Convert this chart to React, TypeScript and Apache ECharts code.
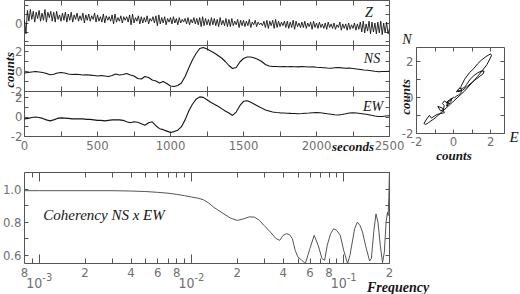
import React, { useEffect, useRef } from "react";
import * as echarts from "echarts";

// ---------- DATA ----------
const zStepSeconds = 10;
const zCounts = [
  0.3, -1.2, 1.4, 0.2, 1.5, 0.4, 1.3, 0.1, 1.2, 0.5,
  1.4, 0.2, 1.1, 0.3, 1.5, 0.1, 1.2, 0.6, 1.3, 0.2,
  1.2, 0.1, 1.3, 0.4, 0.9, 0.2, 1.1, 0.3, 1.2, 0.1,
  1.0, 0.3, 1.2, 0.1, 0.9, 0.4, 1.1, 0.2, 0.8, 0.3,
  1.1, 0.0, 0.9, 0.3, 1.0, 0.2, 0.8, 0.4, 1.1, 0.1,
  0.9, 0.2, 0.7, 0.1, 1.0, 0.0, 0.8, 0.3, 0.7, 0.2,
  0.9, -0.1, 1.0, 0.1, 0.6, 0.2, 0.8, 0.0, 0.7, 0.3,
  0.7, 0.1, 0.9, -0.2, 1.0, 0.0, 0.6, 0.2, 0.8, -0.1,
  0.7, 0.0, 0.6, 0.1, 0.8, -0.1, 0.5, 0.2, 0.7, 0.0,
  0.8, -0.3, 0.9, -0.1, 0.6, 0.0, 0.7, -0.2, 0.5, 0.1,
  0.6, -0.1, 0.7, 0.0, 0.5, -0.2, 0.6, 0.0, 0.4, 0.1,
  0.5, -0.1, 0.6, -0.2, 0.4, 0.0, 0.6, -0.1, 0.5, -0.2,
  0.6, -0.4, 0.7, -0.3, 0.5, -0.2, 0.4, -0.3, 0.6, -0.2,
  0.5, -0.3, 0.4, -0.4, 0.6, -0.2, 0.3, -0.3, 0.5, -0.4,
  0.4, -0.4, 0.5, -0.3, 0.2, -0.2, 0.4, -0.5, 0.3, -0.3,
  0.3, -0.4, 0.2, -0.3, 0.4, -0.5, 0.1, -0.2, 0.3, -0.4,
  0.1, -0.2, 0.0, -0.3, 0.2, -0.5, 0.3, -0.6, 0.2, -0.3,
  0.3, -0.6, 0.4, -0.5, 0.2, -0.4, 0.1, -0.3, 0.2, -0.5,
  0.2, -0.6, 0.1, -0.5, 0.3, -0.7, 0.2, -0.4, 0.0, -0.5,
  0.1, -0.5, 0.2, -0.6, 0.0, -0.4, 0.1, -0.7, 0.2, -0.5,
  0.0, -0.6, 0.1, -0.5, -0.1, -0.6, 0.0, -0.7, 0.1, -0.5,
  -0.1, -0.6, 0.0, -0.7, -0.2, -0.5, 0.1, -0.8, -0.1, -0.6,
  -0.1, -0.8, 0.0, -0.7, -0.2, -0.6, 0.0, -0.8, -0.1, -0.7,
  0.1, -1.0, 0.2, -1.1, -0.1, -0.9, 0.2, -1.2, 0.1, -1.0,
  0.0, -1.2, 0.1, -1.1, 0.2, -1.3, 0.0, -1.1, 0.1, -1.2,
  -0.6,
];

const hStepSeconds = 25;
const nsCounts = [
  -0.15, -0.1, -0.05, 0.0, -0.05, -0.1, -0.2, -0.32, -0.28, -0.15,
  -0.1, -0.15, -0.25, -0.3, -0.28, -0.3, -0.35, -0.33, -0.36, -0.4,
  -0.45, -0.4, -0.45, -0.5, -0.4, -0.25, -0.35, -0.3, -0.2, -0.35,
  -0.45, -0.7, -0.75, -0.5, -0.6, -0.85, -0.95, -1.15, -1.0, -1.2,
  -1.45, -1.5, -1.4, -1.15, -0.5, 0.35, 1.15, 1.8, 2.3, 2.4,
  2.25, 2.05, 1.85, 1.6, 1.35, 1.0, 0.6, 0.3, 0.4, 0.95,
  1.3, 1.45, 1.45, 1.35, 1.2, 1.0, 0.7, 0.55, 0.5, 0.5,
  0.48, 0.5, 0.47, 0.5, 0.48, 0.46, 0.5, 0.48, 0.45, 0.47,
  0.42, 0.4, 0.38, 0.35, 0.33, 0.38, 0.4, 0.36, 0.33, 0.35,
  0.3, 0.25, 0.2, 0.15, 0.12, 0.08, 0.02, -0.02, 0.0, 0.0,
  0.02,
];
const ewCounts = [
  -0.2, -0.15, -0.05, 0.0, -0.05, -0.15, -0.3, -0.4, -0.3, -0.15,
  -0.1, -0.12, -0.15, -0.2, -0.2, -0.2, -0.2, -0.25, -0.25, -0.3,
  -0.35, -0.35, -0.4, -0.35, -0.3, -0.3, -0.3, -0.35, -0.5, -0.6,
  -0.5, -0.55, -0.7, -0.85, -0.6, -0.5, -0.9, -1.2, -1.3, -1.45,
  -1.6, -1.5, -1.35, -1.0, -0.3, 0.6, 1.3, 1.8, 2.05, 2.0,
  1.75, 1.5, 1.3, 1.1, 0.85, 0.6, 0.4, 0.15, 0.5, 1.15,
  1.6, 1.65, 1.5, 1.3, 1.1, 0.9, 0.7, 0.6, 0.5, 0.45,
  0.42, 0.4, 0.38, 0.36, 0.35, 0.33, 0.35, 0.38, 0.4, 0.43,
  0.45, 0.42, 0.38, 0.32, 0.28, 0.22, 0.2, 0.25, 0.32, 0.4,
  0.42, 0.4, 0.35, 0.3, 0.25, 0.18, 0.1, 0.05, 0.05, 0.1,
  0.12,
];

const timeTickValues = [0, 250, 500, 750, 1000, 1250, 1500, 1750, 2000, 2250, 2500];
const timeLabelValues = [0, 500, 1000, 1500, 2000, 2500];
const countTickValues = [-2, -1, 0, 1, 2];
const zLabelValues = [0];
const hLabelValues = [-2, 0, 2];
const pmLabelValues = [-2, 0, 2];

const freqHz = [
  0.0008, 0.001, 0.002, 0.003, 0.004, 0.005, 0.006, 0.007, 0.008, 0.009,
  0.010, 0.011, 0.012, 0.013, 0.014, 0.016, 0.018, 0.020, 0.022, 0.024,
  0.026, 0.028, 0.030, 0.033, 0.036, 0.038, 0.040, 0.042, 0.044, 0.046,
  0.048, 0.050, 0.053, 0.056, 0.060, 0.064, 0.068, 0.072, 0.075, 0.078,
  0.082, 0.086, 0.090, 0.095, 0.100, 0.106, 0.110, 0.118, 0.123, 0.128,
  0.133, 0.140, 0.148, 0.152, 0.158, 0.163, 0.168, 0.174, 0.180, 0.185,
  0.190, 0.194, 0.196, 0.198, 0.200,
];
const coherency = [
  0.99, 0.99, 0.99, 0.99, 0.988, 0.985, 0.98, 0.975, 0.968, 0.96,
  0.952, 0.945, 0.935, 0.915, 0.89, 0.855, 0.825, 0.81, 0.82, 0.832,
  0.83, 0.81, 0.78, 0.74, 0.70, 0.69, 0.72, 0.73, 0.725, 0.70,
  0.63, 0.59, 0.57, 0.55, 0.64, 0.72, 0.66, 0.58, 0.57, 0.66,
  0.73, 0.76, 0.75, 0.72, 0.63, 0.55, 0.60, 0.76, 0.80, 0.78,
  0.74, 0.65, 0.565, 0.58, 0.75, 0.85, 0.80, 0.66, 0.555, 0.62,
  0.80, 0.86, 0.84, 0.95, 1.12,
];
const cohTickValues = [0.6, 0.7, 0.8, 0.9, 1.0];
const cohLabelValues = [0.6, 0.8, 1.0];
const freqMinorTicks = [
  0.0009, 0.002, 0.003, 0.004, 0.005, 0.006, 0.007, 0.008, 0.009,
  0.02, 0.03, 0.04, 0.05, 0.06, 0.07, 0.08, 0.09, 0.2,
];
const freqDecades = [0.001, 0.01, 0.1];
const freqDigitLabels = [0.0008, 0.002, 0.004, 0.006, 0.008, 0.02, 0.04, 0.06, 0.08, 0.2];
const freqMin = 0.0008;
const freqMax = 0.2;

// ---------- STYLE ----------
const frameColor = "#555";
const labelColor = "#707070";
const inkColor = "#151515";
const sansFont = "'Liberation Sans Narrow', 'DejaVu Sans Condensed', 'Liberation Sans', sans-serif";
const serifFont = "'Liberation Serif', 'DejaVu Serif', serif";

function makeAxis(
  gridIndex: number,
  position: string,
  min: number,
  max: number,
  tickValues: number[] | null,
  tickLen: number,
  labelValues?: number[],
  formatter?: (v: number) => string,
  margin = 2,
  extraLabel: Record<string, unknown> = {}
) {
  return {
    type: "value",
    gridIndex,
    position,
    min,
    max,
    axisLine: { show: false, onZero: false },
    splitLine: { show: false },
    axisTick:
      tickValues && tickValues.length
        ? { show: true, inside: true, length: tickLen, customValues: tickValues, lineStyle: { color: frameColor, width: 1 } }
        : { show: false },
    axisLabel: labelValues
      ? {
          show: true,
          customValues: labelValues,
          formatter,
          margin,
          color: labelColor,
          fontFamily: sansFont,
          fontSize: 13,
          ...extraLabel,
        }
      : { show: false },
  };
}

const num = (v: number) => String(v);
const lg = (f: number) => Math.log10(f);

export default function App() {
  const ref = useRef<HTMLDivElement>(null);

  useEffect(() => {
    if (!ref.current) return;
    const chart = echarts.init(ref.current, undefined, { renderer: "svg" });

    const xAxes: any[] = [];
    const yAxes: any[] = [];
    const addX = (a: any) => (xAxes.push(a), xAxes.length - 1);
    const addY = (a: any) => (yAxes.push(a), yAxes.length - 1);

    const gridBox = (left: number, top: number, width: number, height: number) => ({
      left, top, width, height,
      show: true,
      borderColor: frameColor,
      borderWidth: 1,
      backgroundColor: "transparent",
      containLabel: false,
      outerBoundsMode: "none",
    });

    const grids = [
      gridBox(24.5, 0.5, 365, 45), // Z
      gridBox(24.5, 45.5, 365, 46), // NS
      gridBox(24.5, 91.5, 365, 45), // EW
      gridBox(416.5, 47.5, 88, 86), // particle motion
      gridBox(24.5, 172.5, 365, 91), // coherency
    ];

    const panelRanges: [number, number, number[]][] = [
      [-2.5, 2.5, zLabelValues],
      [-2, 2.6, hLabelValues],
      [-2, 2.6, hLabelValues],
    ];
    const tx: number[] = [];
    const ty: number[] = [];
    panelRanges.forEach(([mn, mx, labels], gi) => {
      tx.push(addX(makeAxis(gi, "bottom", 0, 2500, timeTickValues, 5, gi === 2 ? timeLabelValues : undefined, num, 2)));
      addX(makeAxis(gi, "top", 0, 2500, timeTickValues, 5));
      ty.push(addY(makeAxis(gi, "left", mn, mx, countTickValues, 4, labels, num, 2)));
      addY(makeAxis(gi, "right", mn, mx, countTickValues, 4));
    });

    const pmX = addX(makeAxis(3, "bottom", -2, 2.75, countTickValues, 4, pmLabelValues, num, 1));
    addX(makeAxis(3, "top", -2, 2.75, countTickValues, 4));
    const pmY = addY(makeAxis(3, "left", -2, 2.75, countTickValues, 4, pmLabelValues, num, 3));
    addY(makeAxis(3, "right", -2, 2.75, countTickValues, 4));

    const lmin = lg(freqMin);
    const lmax = lg(freqMax);
    const digitFmt = (v: number) => {
      const e = Math.floor(v + 1e-9);
      return String(Math.round(Math.pow(10, v) / Math.pow(10, e)));
    };
    const cX = addX(
      makeAxis(4, "bottom", lmin, lmax, freqMinorTicks.map(lg), 5, freqDigitLabels.map(lg), digitFmt, 2)
    );
    addX(
      makeAxis(4, "bottom", lmin, lmax, freqDecades.map(lg), 9, freqDecades.map(lg), (v: number) => `{b|10}{s|${Math.round(v)}}`, 8, {
        rich: {
          b: { fontSize: 14, color: labelColor, fontFamily: sansFont, verticalAlign: "bottom", lineHeight: 18 },
          s: { fontSize: 11, color: labelColor, fontFamily: sansFont, verticalAlign: "top", lineHeight: 18 },
        },
      })
    );
    addX(makeAxis(4, "top", lmin, lmax, freqMinorTicks.map(lg), 5));
    addX(makeAxis(4, "top", lmin, lmax, freqDecades.map(lg), 9));
    const cY = addY(makeAxis(4, "left", 0.55, 1.1, cohTickValues, 4, cohLabelValues, (v: number) => v.toFixed(1), 3));
    addY(makeAxis(4, "right", 0.55, 1.1, cohTickValues, 4));

    const lineSeries = (name: string, xi: number, yi: number, data: number[][], color = inkColor, width = 1) => ({
      name,
      type: "line",
      xAxisIndex: xi,
      yAxisIndex: yi,
      data,
      showSymbol: false,
      symbol: "none",
      clip: true,
      lineStyle: { color, width },
    });

    const series = [
      lineSeries("Z", tx[0], ty[0], zCounts.map((v, i) => [i * zStepSeconds, v]), inkColor, 0.9),
      lineSeries("NS", tx[1], ty[1], nsCounts.map((v, i) => [i * hStepSeconds, v]), inkColor, 1.1),
      lineSeries("EW", tx[2], ty[2], ewCounts.map((v, i) => [i * hStepSeconds, v]), inkColor, 1.1),
      lineSeries("NE", pmX, pmY, ewCounts.map((e, i) => [e, nsCounts[i]]), inkColor, 1),
      lineSeries("Coherency", cX, cY, freqHz.map((f, i) => [lg(f), coherency[i]]), "#555", 1),
    ];

    const txt = (text: string, x: number, y: number, size: number, weight = "normal", rotation = 0) => ({
      type: "text",
      x,
      y,
      rotation,
      style: {
        text,
        fill: inkColor,
        font: `italic ${weight} ${size}px ${serifFont}`,
        align: "center",
        verticalAlign: "middle",
      },
    });

    chart.setOption({
      animation: false,
      backgroundColor: "#fff",
      grid: grids,
      xAxis: xAxes,
      yAxis: yAxes,
      series,
      graphic: [
        txt("Z", 369, 12, 14),
        txt("NS", 372, 58, 14),
        txt("EW", 373, 106, 14),
        txt("seconds", 353, 146, 13, "bold"),
        txt("counts", 9, 70, 13, "bold", Math.PI / 2),
        txt("N", 407, 39, 14),
        txt("E", 514, 137, 15),
        txt("counts", 405, 97, 13, "bold", Math.PI / 2),
        txt("counts", 454, 155, 13, "bold"),
        txt("Coherency NS x EW", 104, 215, 15),
        txt("Frequency", 398, 287, 14, "bold"),
      ],
    });

    return () => chart.dispose();
  }, []);

  return (
    <div
      ref={ref}
      style={{ position: "fixed", left: 0, top: 0, width: 520, height: 294, background: "#fff" }}
    />
  );
}
